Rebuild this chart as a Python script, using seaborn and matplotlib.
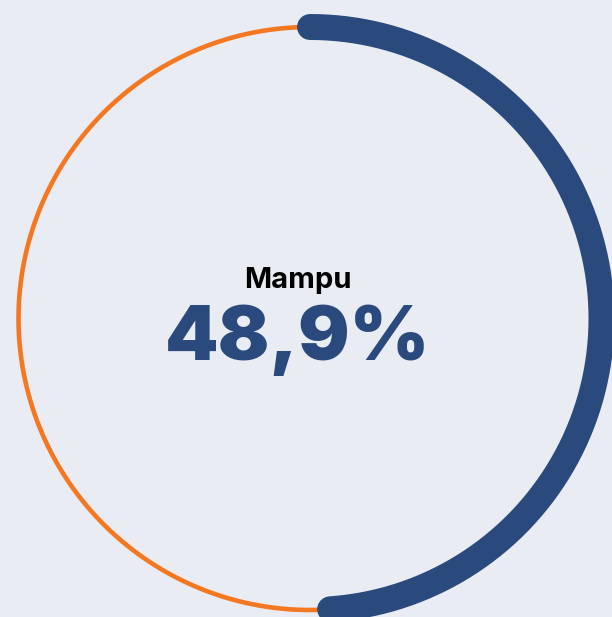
import numpy as np
import pandas as pd
import matplotlib
matplotlib.use("Agg")
import matplotlib.pyplot as plt
import seaborn as sns

label = "Mampu"
value = 48.9  # percent
value_text = "48,9%"

BG = "#e9edf3"
BLUE = "#2a4a7e"
ORANGE = "#f47721"

sns.set_theme(style="white")
plt.rcParams['font.family'] = ['Inter', 'DejaVu Sans']

W, H = 612, 617
fig = plt.figure(figsize=(W / 100, H / 100), dpi=100, facecolor=BG)
ax = fig.add_axes([0, 0, 1, 1])
ax.set_facecolor(BG)
ax.set_xlim(0, W)
ax.set_ylim(H, 0)
ax.axis("off")

cx, cy, r = 310, 318.5, 291.5

def arc(start_frac, end_frac, n=400):
    # fraction 0 = top, increasing clockwise
    t = np.linspace(start_frac, end_frac, n) * 2 * np.pi
    return pd.DataFrame({"x": cx + r * np.sin(t), "y": cy - r * np.cos(t)})

frac = value / 100
rest = arc(frac, 1.0)
filled = arc(0.0, frac)

sns.lineplot(data=rest, x="x", y="y", sort=False, color=ORANGE, lw=3.3,
             ax=ax, solid_capstyle="butt", estimator=None)
sns.lineplot(data=filled, x="x", y="y", sort=False, color=BLUE, lw=18.7,
             ax=ax, solid_capstyle="round", estimator=None)

ax.text(298, 280, label, ha="center", va="center", fontsize=21,
        fontweight=700, color="black")
ax.text(297, 340, value_text, ha="center", va="center", fontsize=55,
        fontweight=900, color=BLUE)

fig.savefig("out.png", dpi=100, facecolor=BG)
